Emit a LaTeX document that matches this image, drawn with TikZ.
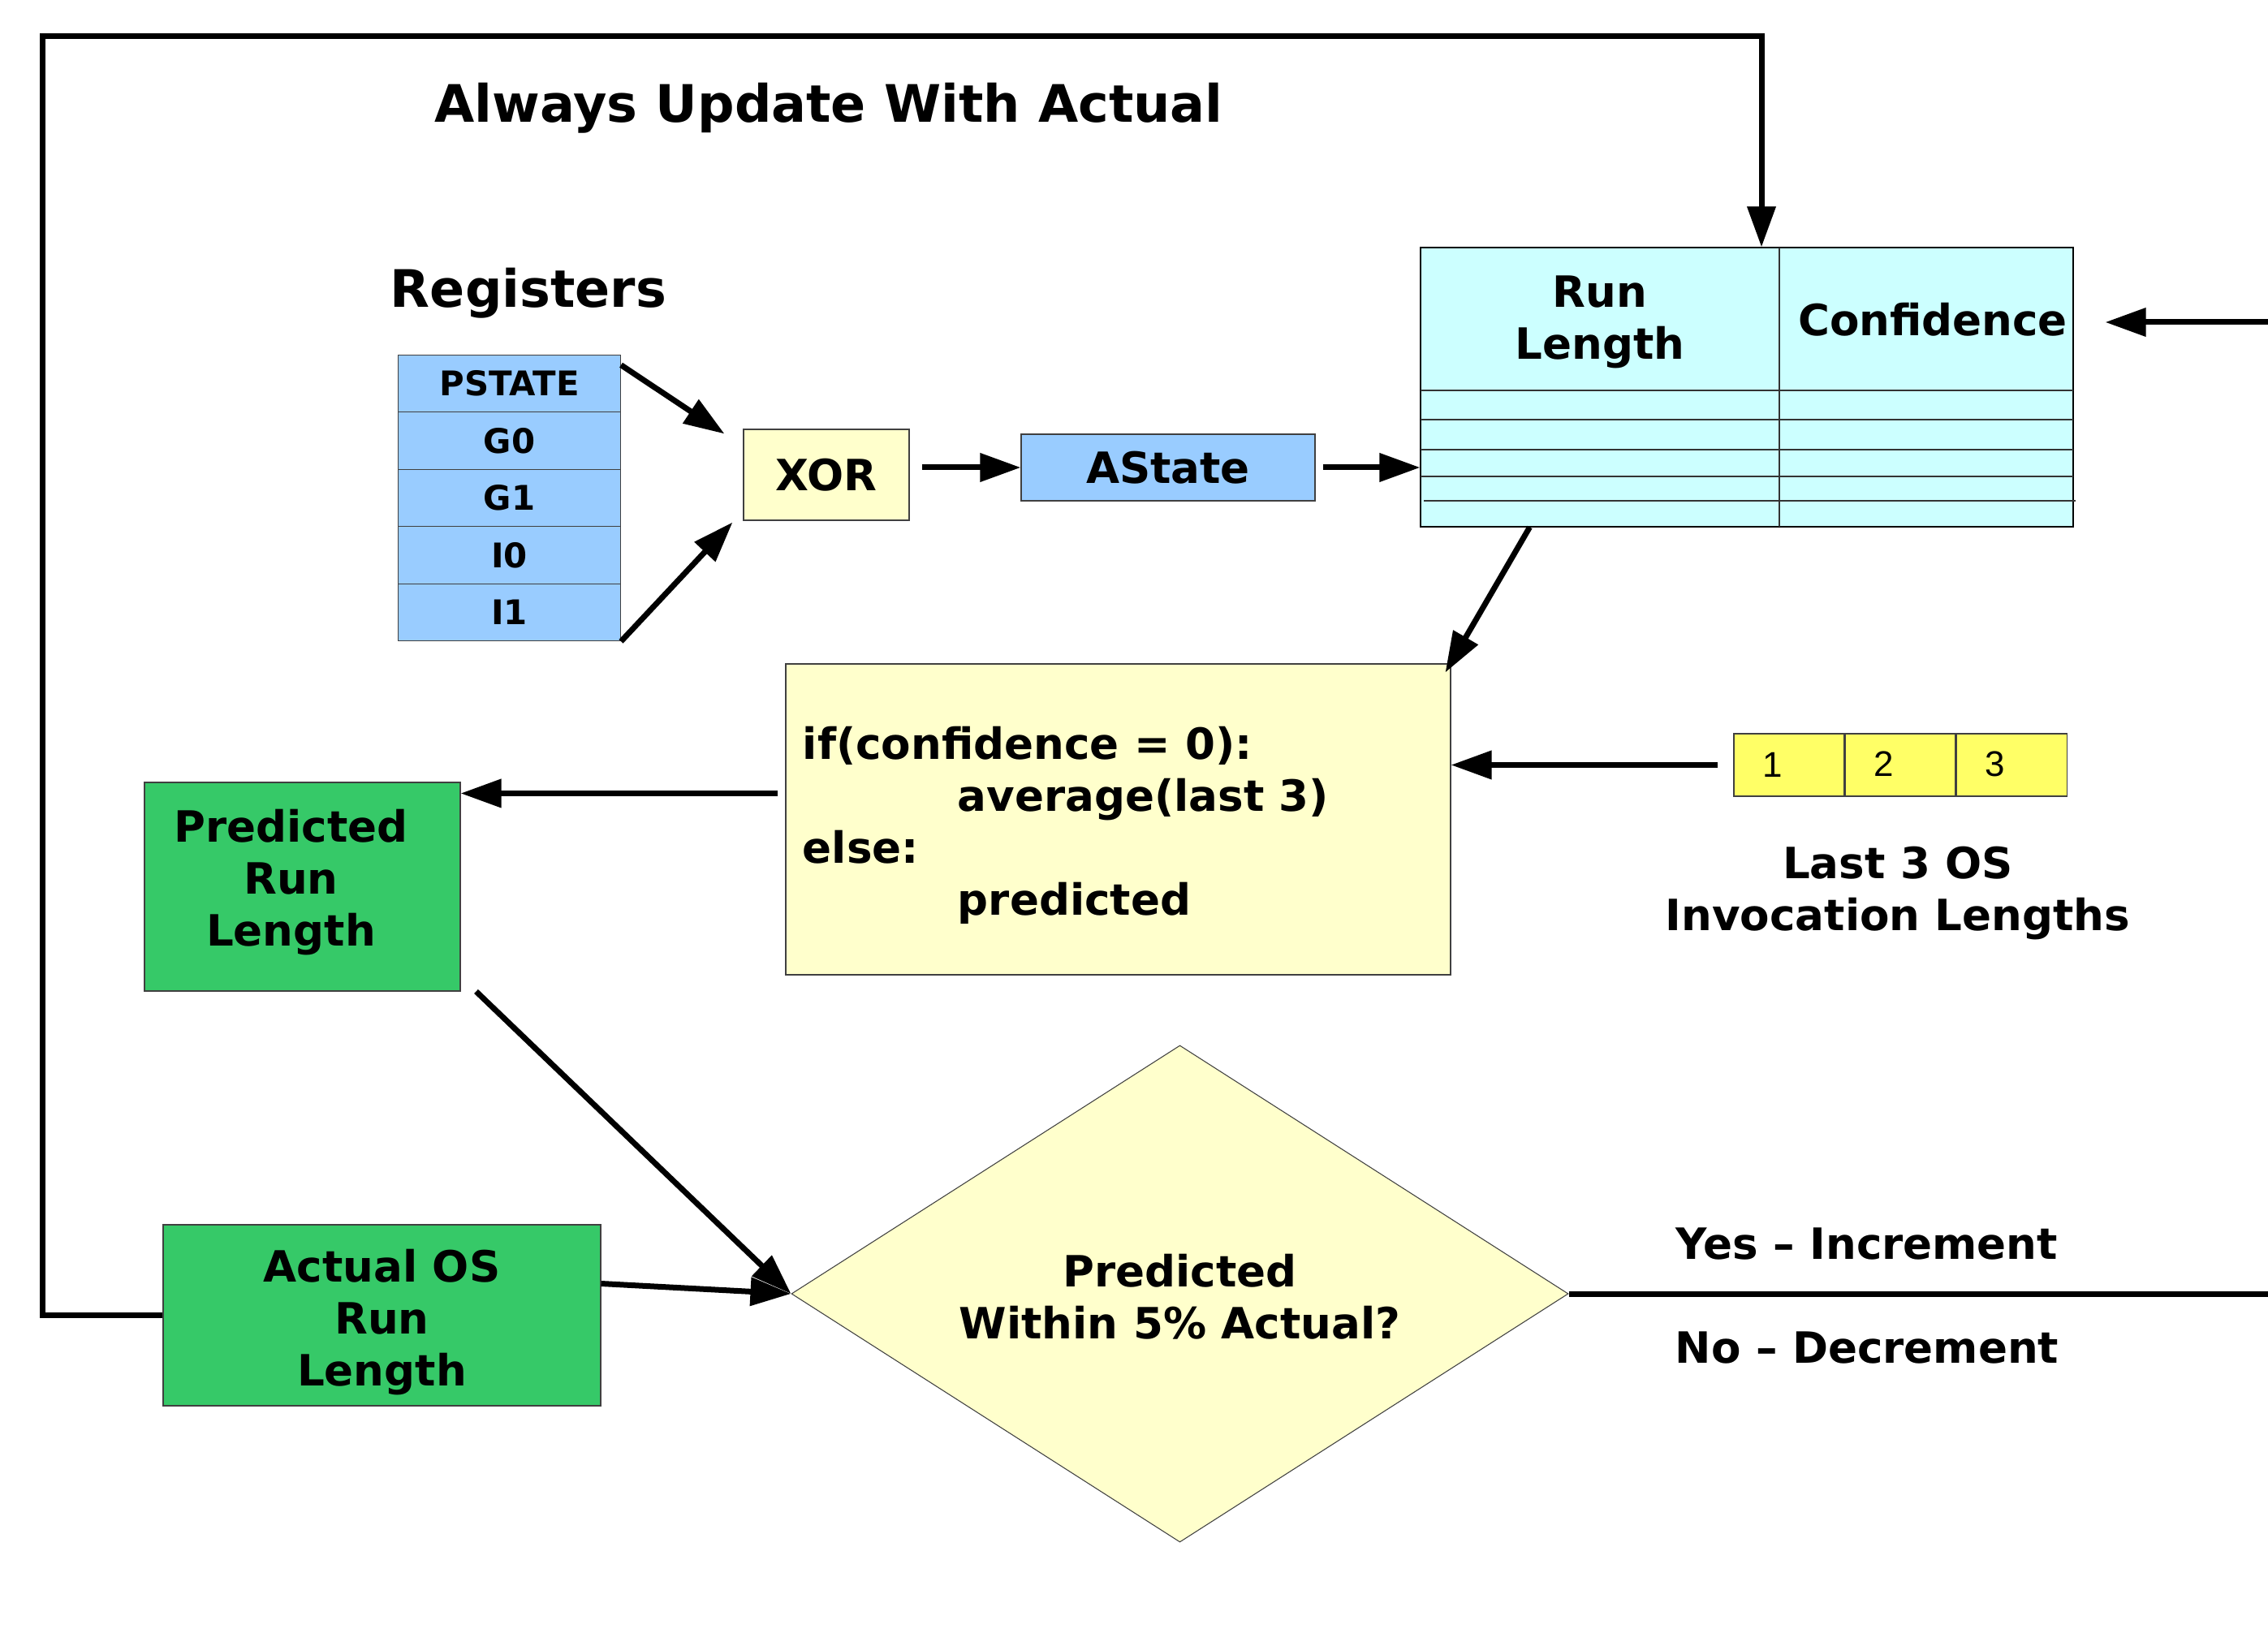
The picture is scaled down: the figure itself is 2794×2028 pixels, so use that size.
\documentclass[tikz,border=0pt]{standalone}
\usepackage{fontspec}
\setmainfont{DejaVu Sans}
\newfontfamily\cellfont{Liberation Sans}
\usetikzlibrary{arrows.meta,shapes.geometric,calc}
\definecolor{regblue}{HTML}{99CCFF}
\definecolor{paleyellow}{HTML}{FFFFCC}
\definecolor{tablecyan}{HTML}{CCFFFF}
\definecolor{rlgreen}{HTML}{36C968}
\definecolor{histyellow}{HTML}{FFFF66}
\newcommand{\figfont}{\fontsize{15.1}{18.2}\selectfont\bfseries}
\newcommand{\figtitlefont}{\fontsize{18.1}{21.7}\selectfont\bfseries}
\newcommand{\figregfont}{\fontsize{11.9}{14.3}\selectfont\bfseries}
\tikzset{
  figbox/.style={draw=black!75, line width=0.3pt, align=center, font=\figfont, inner sep=0pt},
  regbox/.style={figbox, fill=regblue, font=\figregfont, minimum width=27.4mm, minimum height=7.05mm},
  opbox/.style={figbox, fill=paleyellow},
  rlbox/.style={figbox, fill=rlgreen},
  histcell/.style={figbox, fill=histyellow, font=\cellfont\fontsize{12.5}{15}\selectfont,
    align=left, text width=6.6mm, inner xsep=3.5mm, inner ysep=0pt, minimum height=7.7mm},
  gridline/.style={draw=black!80, line width=0.3pt},
  figarrow/.style={-{Triangle[length=5mm,width=3.4mm]}, line width=0.7mm},
  figline/.style={line width=0.7mm},
  figlabel/.style={font=\figfont, align=center},
}

\begin{document}
\begin{tikzpicture}[x=0.1mm, y=-0.1mm]
  \useasboundingbox (0,0) rectangle (2794,2028);
  \node[figlabel, font=\figtitlefont] (title) at (1021,133) {Always Update With Actual};
  \node[figlabel, font=\figtitlefont] (regtitle) at (651,361) {Registers};
  \foreach \r [count=\i from 0] in {PSTATE,G0,G1,I0,I1}
    \node[regbox] (reg\i) at (627.5,{472.5+70.5*\i}) {\r};
  \node[opbox, minimum width=20.4mm, minimum height=11.2mm] (xor) at (1018,585) {XOR};
  \node[regbox, font=\figfont, minimum width=36.2mm, minimum height=8.2mm] (ast) at (1439,576) {AState};

  \node[figbox, fill=tablecyan, draw=black, minimum width=80.4mm, minimum height=34.4mm] (tbl) at (2152,477) {};
  \draw[gridline] (1750,481) -- (2554,481);
  \draw[gridline] (2192,305) -- (2192,649);
  \foreach \y in {517,554,587}
    \draw[gridline] (1750,\y) -- (2554,\y);
  \draw[gridline] (1754,617) -- (2557,617);
  \node[figlabel] (rlhead) at (1971,397) {Run\\Length};
  \node[figlabel] (confhead) at (2381,394) {Confidence};

  \node[opbox, minimum width=81.9mm, minimum height=38.3mm] (code) at (1377.5,1009.5) {};
  \node[figlabel, align=left, anchor=west] (codetxt) at (976.5,1016.5)
    {if(confidence = 0):\\\hspace*{19.1mm}average(last 3)\\else:\\\hspace*{19.1mm}predicted};
  \foreach \d/\x/\dy in {1/2204/-0.4mm,2/2341/0.3mm,3/2478/0.3mm}
    \node[histcell] (h\d) at (\x,942.5) {\raisebox{\dy}{\d}};
  \node[figlabel] (histlabel) at (2338,1101) {Last 3 OS\\Invocation Lengths};

  \node[rlbox, minimum width=38.9mm, minimum height=25.7mm] (pred) at (372.5,1092.5) {};
  \node[figlabel] (predtxt) at (358.5,1087.5) {Predicted\\Run\\Length};
  \node[rlbox, minimum width=53.9mm, minimum height=22.3mm] (act) at (470.5,1620.5) {};
  \node[figlabel] (acttxt) at (470.5,1629.5) {Actual OS\\Run\\Length};
  \node[figbox, diamond, aspect=1.56, fill=paleyellow, minimum width=95.7mm, minimum height=61.2mm] (dia) at (1453.5,1594) {};
  \node[figlabel] (diatxt) at (1453.5,1598) {Predicted\\Within 5\% Actual?};
  \node[figlabel] (yes) at (2300,1533) {Yes – Increment};
  \node[figlabel] (no) at (2300,1661) {No – Decrement};

  \coordinate (loopc) at (52,45);
  \coordinate (rightedge) at (2794,0);
  \coordinate (confin) at (2794,397);

  \draw[figarrow] ($(reg0.north east)+(0,-1.3mm)$) -- ($(xor.north west)+(-2.3mm,-0.6mm)$);
  \draw[figarrow] (reg4.south east) -- ($(xor.south west)+(-1.3mm,-0.2mm)$);
  \draw[figarrow] ($(xor.east |- ast.west)+(1.5mm,0)$) -- (ast.west);
  \draw[figarrow] ($(ast.east)+(0.9mm,0)$) -- (ast.east -| tbl.west);
  \draw[figarrow] ($(tbl.south west)+(13.5mm,0)$) -- ($(code.north east)+(-0.7mm,-1.1mm)$);
  \draw[figarrow] ($(h1.west)+(-1.9mm,0)$) -- (h1.west -| code.east);
  \draw[figarrow] ($(code.west |- pred.north)+(-0.9mm,-1.4mm)$) -- ($(pred.north east)+(0,-1.4mm)$);
  \draw[figarrow] ($(pred.south east)+(1.9mm,0)$) -- (dia.west);
  \draw[figarrow] ($(act.east)+(0,3.9mm)$) -- (dia.west);
  \draw[figarrow] (act.west) -| (loopc) -| ($(tbl.north)+(1.8mm,0)$);
  \draw[figline] (dia.east) -- (dia.east -| rightedge);
  \draw[figarrow] (confin) -- ($(confin -| tbl.east)+(3.9mm,0)$);
\end{tikzpicture}
\end{document}
